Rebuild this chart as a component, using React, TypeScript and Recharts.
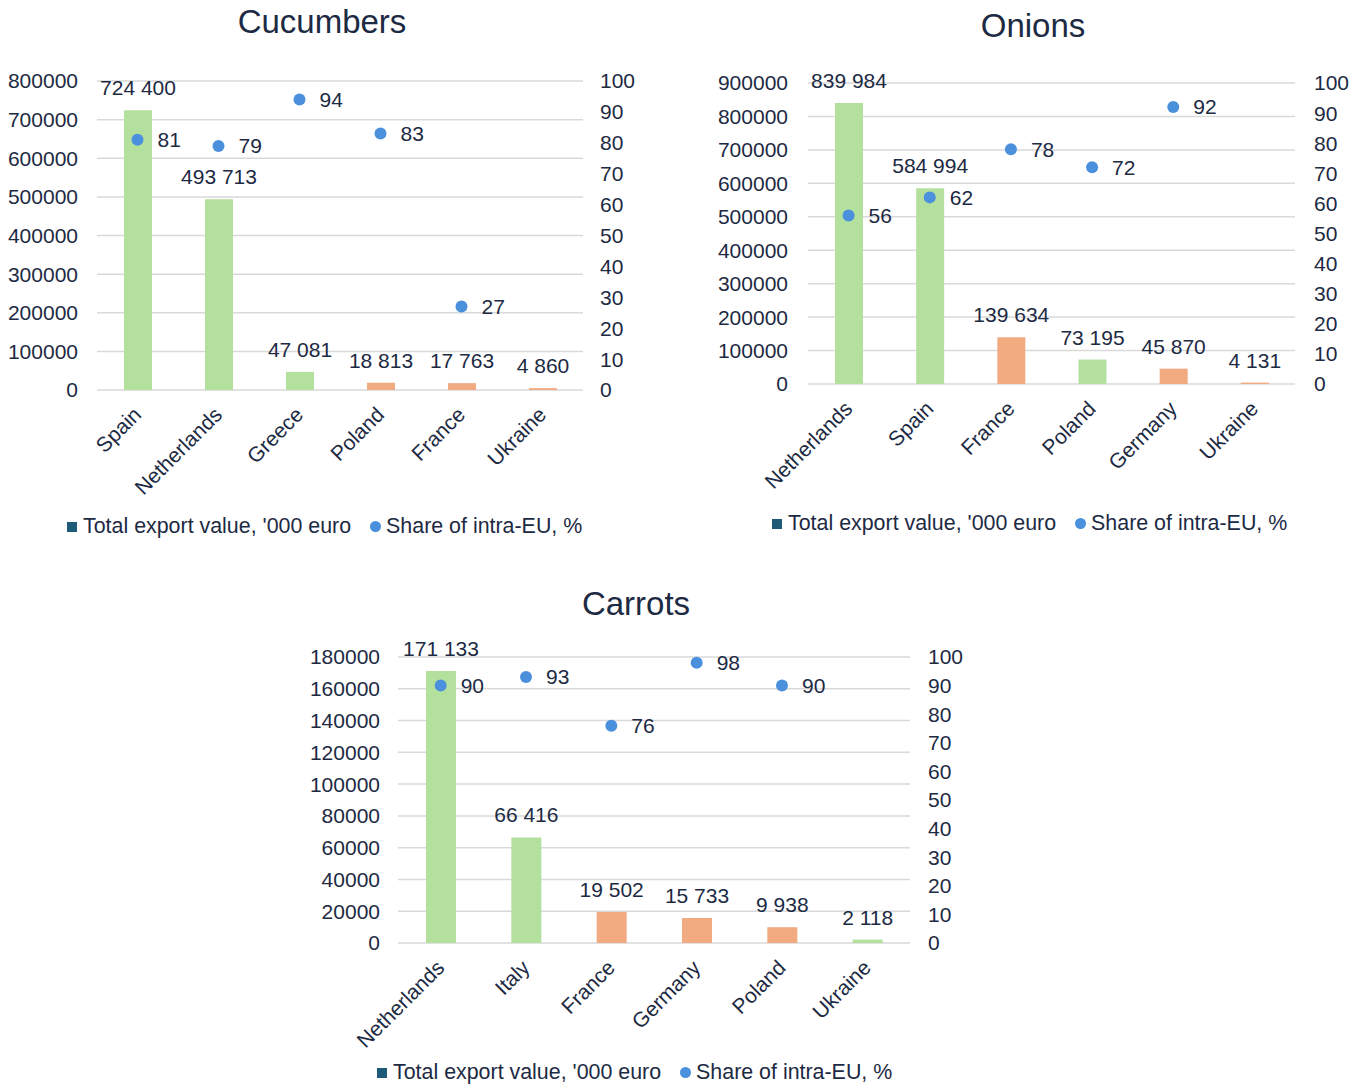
import { ComposedChart, Bar, Scatter, XAxis, YAxis, CartesianGrid, Cell, LabelList } from 'recharts'

// cucumbers
const cucumberCountries = ['Spain', 'Netherlands', 'Greece', 'Poland', 'France', 'Ukraine']
const cucumberExports = [724400, 493713, 47081, 18813, 17763, 4860]
const cucumberShares = [81, 79, 94, 83, 27, null]
const cucumberGreen = [true, true, true, false, false, false]
const cucumberTicks = [0, 100000, 200000, 300000, 400000, 500000, 600000, 700000, 800000]

// onions
const onionCountries = ['Netherlands', 'Spain', 'France', 'Poland', 'Germany', 'Ukraine']
const onionExports = [839984, 584994, 139634, 73195, 45870, 4131]
const onionShares = [56, 62, 78, 72, 92, null]
const onionGreen = [true, true, false, true, false, false]
const onionTicks = [0, 100000, 200000, 300000, 400000, 500000, 600000, 700000, 800000, 900000]

// carrots
const carrotCountries = ['Netherlands', 'Italy', 'France', 'Germany', 'Poland', 'Ukraine']
const carrotExports = [171133, 66416, 19502, 15733, 9938, 2118]
const carrotShares = [90, 93, 76, 98, 90, null]
const carrotGreen = [true, true, false, false, false, true]
const carrotTicks = [0, 20000, 40000, 60000, 80000, 100000, 120000, 140000, 160000, 180000]

const shareTicks = [0, 10, 20, 30, 40, 50, 60, 70, 80, 90, 100]

const FONT = '"Liberation Sans", Arial, Helvetica, sans-serif'
const FS = 21
const INK = '#1d2a43'
const GREEN = '#b4e09e'
const ORANGE = '#f2aa80'
const BLUE = '#4a90dc'
const LEGEND_SQUARE = '#1e5b78'
const GRID = '#d9d9d9'

const fmt = (v: number) => String(v).replace(/\B(?=(\d{3})+(?!\d))/g, ' ')

const CountryTick = (props: any) => {
    const { x, y, payload } = props
    return (
        <g transform={`translate(${x + 5},${y + 26})`}>
            <text textAnchor="end" transform="rotate(-45)" fill={INK} fontSize={FS} fontFamily={FONT}>
                {payload.value}
            </text>
        </g>
    )
}

// value printed above each bar, kept on one line
const ValueLabel = (props: any) => {
    const { x, y, width, value } = props
    return (
        <text x={x + width / 2} y={y - 15} textAnchor="middle" fill={INK} fontSize={FS} fontFamily={FONT}>
            {fmt(Number(value))}
        </text>
    )
}

const ShareDot = (props: any) => {
    const { cx, cy, payload } = props
    if (payload == null || payload.share == null || cx == null || cy == null || isNaN(cy)) return <g />
    return (
        <g>
            <circle cx={cx} cy={cy} r={6} fill={BLUE} />
            <text x={cx + 20} y={cy} dy="0.35em" fill={INK} fontSize={FS} fontFamily={FONT}>
                {payload.share}
            </text>
        </g>
    )
}

function Legend({ left, top }: { left: number; top: number }) {
    return (
        <div style={{ position: 'absolute', left, top, display: 'flex', alignItems: 'center', fontFamily: FONT, fontSize: 21.4, color: INK, whiteSpace: 'nowrap' }}>
            <span style={{ width: 10, height: 10, background: LEGEND_SQUARE, marginRight: 6, display: 'inline-block' }} />
            <span>Total export value, '000 euro</span>
            <span style={{ width: 11, height: 11, borderRadius: '50%', background: BLUE, marginLeft: 19, marginRight: 5, display: 'inline-block' }} />
            <span>Share of intra-EU, %</span>
        </div>
    )
}

type PanelProps = {
    title: string
    countries: string[]
    exports: number[]
    shares: (number | null)[]
    green: boolean[]
    ticks: number[]
    left: number
    top: number
    width: number
    height: number
    marginTop: number
    leftAxisWidth: number
    leftTickGap: number
    rightAxisWidth: number
    rightTickGap: number
    xAxisHeight: number
    barSize: number
    titleX: number
    titleY: number
    legendX: number
    legendY: number
}

function Panel(p: PanelProps) {
    const data = p.countries.map((name, i) => ({ name, value: p.exports[i], share: p.shares[i] }))
    const yMax = p.ticks[p.ticks.length - 1]
    return (
        <>
            <div style={{ position: 'absolute', left: p.titleX - 150, top: p.titleY - 19, width: 300, textAlign: 'center', fontFamily: FONT, fontSize: 33, color: INK }}>
                {p.title}
            </div>
            <div style={{ position: 'absolute', left: p.left, top: p.top }}>
                <ComposedChart
                    width={p.width}
                    height={p.height}
                    data={data}
                    margin={{ top: p.marginTop, right: 0, left: 0, bottom: 0 }}
                >
                    <CartesianGrid yAxisId="left" vertical={false} stroke={GRID} strokeWidth={1.5} />
                    <XAxis
                        dataKey="name"
                        axisLine={false}
                        tickLine={false}
                        tickSize={0}
                        tickMargin={0}
                        interval={0}
                        height={p.xAxisHeight}
                        tick={<CountryTick />}
                    />
                    <YAxis
                        yAxisId="left"
                        domain={[0, yMax]}
                        ticks={p.ticks}
                        interval={0}
                        width={p.leftAxisWidth}
                        axisLine={false}
                        tickLine={false}
                        tickSize={0}
                        tickMargin={p.leftTickGap}
                        tick={{ fill: INK, fontSize: FS, fontFamily: FONT }}
                    />
                    <YAxis
                        yAxisId="right"
                        orientation="right"
                        domain={[0, 100]}
                        ticks={shareTicks}
                        interval={0}
                        width={p.rightAxisWidth}
                        axisLine={false}
                        tickLine={false}
                        tickSize={0}
                        tickMargin={p.rightTickGap}
                        tick={{ fill: INK, fontSize: FS, fontFamily: FONT, textAnchor: 'start' }}
                    />
                    <Bar yAxisId="left" dataKey="value" barSize={p.barSize} isAnimationActive={false}>
                        {data.map((d, i) => (
                            <Cell key={d.name} fill={p.green[i] ? GREEN : ORANGE} />
                        ))}
                        <LabelList dataKey="value" content={<ValueLabel />} />
                    </Bar>
                    <Scatter yAxisId="right" dataKey="share" shape={<ShareDot />} isAnimationActive={false} />
                </ComposedChart>
            </div>
            <Legend left={p.legendX} top={p.legendY - 13} />
        </>
    )
}

export default function App() {
    return (
        <div style={{ position: 'absolute', left: 0, top: 0, width: 1368, height: 1088, background: '#fff', overflow: 'hidden' }}>
            <Panel
                title="Cucumbers"
                countries={cucumberCountries}
                exports={cucumberExports}
                shares={cucumberShares}
                green={cucumberGreen}
                ticks={cucumberTicks}
                left={0}
                top={0}
                width={680}
                height={500}
                marginTop={81}
                leftAxisWidth={97}
                leftTickGap={19}
                rightAxisWidth={97}
                rightTickGap={17}
                xAxisHeight={110}
                barSize={28}
                titleX={322}
                titleY={22}
                legendX={67}
                legendY={527}
            />
            <Panel
                title="Onions"
                countries={onionCountries}
                exports={onionExports}
                shares={onionShares}
                green={onionGreen}
                ticks={onionTicks}
                left={700}
                top={0}
                width={668}
                height={500}
                marginTop={83}
                leftAxisWidth={108}
                leftTickGap={20}
                rightAxisWidth={73}
                rightTickGap={19}
                xAxisHeight={116}
                barSize={28}
                titleX={1033}
                titleY={26}
                legendX={772}
                legendY={524}
            />
            <Panel
                title="Carrots"
                countries={carrotCountries}
                exports={carrotExports}
                shares={carrotShares}
                green={carrotGreen}
                ticks={carrotTicks}
                left={290}
                top={580}
                width={720}
                height={508}
                marginTop={77}
                leftAxisWidth={108}
                leftTickGap={18}
                rightAxisWidth={100}
                rightTickGap={18}
                xAxisHeight={145}
                barSize={30}
                titleX={636}
                titleY={604}
                legendX={377}
                legendY={1073}
            />
        </div>
    )
}
